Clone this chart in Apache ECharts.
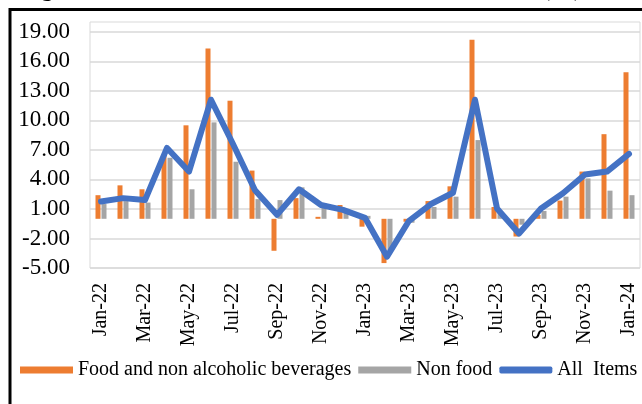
<!DOCTYPE html>
<html>
<head>
<meta charset="utf-8">
<script src="https://cdn.jsdelivr.net/npm/echarts@6/dist/echarts.min.js"></script>
<style>
  html, body { margin: 0; padding: 0; background: #fff; }
  #chart { width: 642px; height: 404px; }
</style>
</head>
<body>
<div id="chart"></div>
<script>
var months = ['Jan-22', 'Feb-22', 'Mar-22', 'Apr-22', 'May-22', 'Jun-22', 'Jul-22', 'Aug-22', 'Sep-22', 'Oct-22', 'Nov-22', 'Dec-22',
  'Jan-23', 'Feb-23', 'Mar-23', 'Apr-23', 'May-23', 'Jun-23', 'Jul-23', 'Aug-23', 'Sep-23', 'Oct-23', 'Nov-23', 'Dec-23', 'Jan-24'];
var food = [2.4, 3.4, 3.0, 6.5, 9.5, 17.3, 12.0, 4.9, -3.25, 2.1, 0.2, 1.4,
  -0.8, -4.5, -0.3, 1.8, 3.3, 18.2, 1.2, -1.8, 0.4, 1.85, 4.8, 8.6, 14.9];
var nonFood = [1.5, 1.8, 1.65, 6.2, 3.0, 9.8, 5.8, 2.0, 1.9, 3.2, 1.6, 1.0,
  0.3, -3.2, -0.4, 1.2, 2.25, 8.0, 0.8, -0.6, 0.8, 2.25, 4.1, 2.86, 2.4];
var allItems = [1.75, 2.1, 1.9, 7.2, 4.8, 12.1, 7.6, 2.9, 0.4, 3.0, 1.4, 0.9,
  0.1, -3.85, -0.2, 1.5, 2.65, 12.1, 1.05, -1.5, 1.05, 2.6, 4.5, 4.8, 6.6];
var yTicks = [-5, -2, 1, 4, 7, 10, 13, 16, 19];
var titleText = 'Figure 1: Trends in Inflation Rates for Main Items (%)';

var serif = "'Liberation Serif', 'Times New Roman', serif";
var myChart = echarts.init(document.getElementById('chart'));

var option = {
  backgroundColor: '#ffffff',
  animation: false,
  graphic: [
    {
      type: 'text',
      left: 20,
      top: -22,
      style: {
        text: titleText,
        font: 'bold 24px ' + serif,
        fill: '#000'
      }
    },
    {
      type: 'polyline',
      shape: { points: [[10, 404], [10, 9.5], [642, 9.5]] },
      style: { stroke: '#000', lineWidth: 3, fill: null }
    }
  ],
  legend: {
    left: 20,
    top: 360,
    width: 622,
    padding: 0,
    itemWidth: 53,
    itemHeight: 7,
    itemGap: 7,
    textStyle: { color: '#000', fontFamily: serif, fontSize: 20 },
    data: [
      { name: 'Food and non alcoholic beverages', icon: 'rect' },
      { name: 'Non food', icon: 'rect' },
      { name: 'All  Items', icon: 'roundRect' }
    ]
  },
  grid: {
    left: 90,
    right: 2,
    top: 22,
    height: 246,
    show: true,
    borderColor: '#d9d9d9',
    borderWidth: 1
  },
  xAxis: {
    type: 'category',
    data: months,
    boundaryGap: true,
    axisLine: { show: false },
    axisTick: { show: false },
    axisLabel: {
      interval: 1,
      rotate: 90,
      margin: 15,
      color: '#000',
      fontFamily: serif,
      fontSize: 20
    }
  },
  yAxis: {
    type: 'value',
    min: -5,
    max: 20,
    axisLine: { show: false },
    axisTick: { show: false, customValues: yTicks },
    axisLabel: {
      customValues: yTicks,
      margin: 20,
      color: '#000',
      fontFamily: serif,
      fontSize: 23,
      formatter: function (v) { return v.toFixed(2); }
    },
    splitLine: { lineStyle: { color: '#d9d9d9', width: 1.5 } }
  },
  series: [
    {
      name: 'Food and non alcoholic beverages',
      type: 'bar',
      barWidth: 5,
      barGap: '20%',
      itemStyle: { color: '#ED7D31' },
      data: food
    },
    {
      name: 'Non food',
      type: 'bar',
      barWidth: 5,
      itemStyle: { color: '#A5A5A5' },
      data: nonFood
    },
    {
      name: 'All  Items',
      type: 'line',
      showSymbol: false,
      symbol: 'none',
      lineStyle: { color: '#4472C4', width: 6, cap: 'round', join: 'round' },
      itemStyle: { color: '#4472C4' },
      data: allItems
    }
  ]
};
myChart.setOption(option);
window.addEventListener('resize', function () {
  myChart.resize();
});
</script>
</body>
</html>
